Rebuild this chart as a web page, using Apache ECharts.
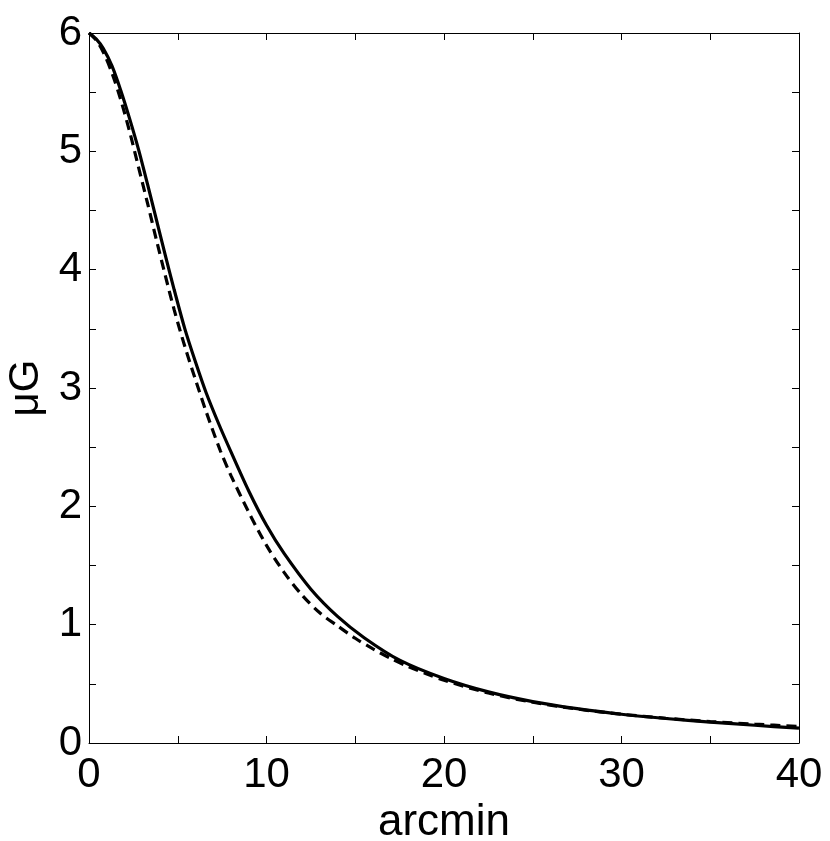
<!DOCTYPE html>
<html>
<head>
<meta charset="utf-8">
<script src="https://cdn.jsdelivr.net/npm/echarts@6/dist/echarts.min.js"></script>
<style>
html,body{margin:0;padding:0;background:#fff;}
#chart{width:830px;height:841px;}
</style>
</head>
<body>
<div id="chart"></div>
<script>
// Solid curve
var solidX = [0, 0.4, 0.8, 1.3, 1.8, 2.3, 2.8, 3.3, 3.8, 4.3, 4.8, 5.4, 6.0, 6.6, 7.3, 8.0, 9.0, 10.0, 11.0, 12.5, 14.0, 15.5, 17.5, 20.0, 22.5, 25.0, 27.5, 30.0, 32.5, 35.0, 37.5, 40.0];
var solidY = [6, 5.95, 5.87, 5.72, 5.51, 5.27, 5.01, 4.72, 4.42, 4.12, 3.83, 3.50, 3.22, 2.96, 2.70, 2.46, 2.13, 1.84, 1.60, 1.30, 1.07, 0.89, 0.70, 0.545, 0.432, 0.350, 0.290, 0.243, 0.207, 0.177, 0.150, 0.125];
// Dashed curve
var dashedX = [0, 0.4, 0.8, 1.3, 1.8, 2.3, 2.8, 3.3, 3.8, 4.3, 4.8, 5.4, 6.0, 6.6, 7.4, 8.0, 9.0, 10.0, 11.0, 12.0, 13.0, 14.0, 15.0, 16.0, 17.0, 18.0, 19.0, 20.0, 22.5, 25.0, 27.5, 30.0, 32.5, 35.0, 37.5, 40.0];
var dashedY = [6, 5.94, 5.84, 5.66, 5.43, 5.16, 4.86, 4.56, 4.25, 3.95, 3.66, 3.35, 3.07, 2.80, 2.47, 2.26, 1.95, 1.67, 1.44, 1.25, 1.10, 0.99, 0.885, 0.795, 0.715, 0.645, 0.585, 0.530, 0.422, 0.344, 0.287, 0.243, 0.209, 0.181, 0.159, 0.140];
// Axis settings / tick labels
var xMin = 0, xMax = 40, xStep = 5, xLabelStep = 10;
var yMin = 0, yMax = 6, yStep = 0.5, yLabelStep = 1;
var xTitle = 'arcmin';
var yTitle = 'μG';

function pairs(xs, ys) { return xs.map(function (x, i) { return [x, ys[i]]; }); }

var font = 'Liberation Sans';
var axisLine = { show: true, onZero: false, lineStyle: { color: '#000', width: 1 } };
var axisTick = { show: true, inside: true, length: 7, lineStyle: { color: '#000', width: 1 } };

var chart = echarts.init(document.getElementById('chart'), null, { renderer: 'canvas' });
chart.setOption({
  animation: false,
  backgroundColor: '#fff',
  grid: { left: 89, right: 31, top: 33, bottom: 98, containLabel: false, outerBoundsMode: 'none' },
  xAxis: [{
    type: 'value', min: xMin, max: xMax, interval: xStep, position: 'bottom',
    axisLine: axisLine, axisTick: axisTick, splitLine: { show: false },
    axisLabel: {
      formatter: function (v) { return v % xLabelStep === 0 ? String(v) : ''; },
      fontSize: 42, color: '#000', fontFamily: font, margin: 11, showMaxLabel: true, showMinLabel: true
    },
    name: xTitle, nameLocation: 'middle', nameGap: 53,
    nameTextStyle: { fontSize: 44, color: '#000', fontFamily: font }
  }, {
    type: 'value', min: xMin, max: xMax, interval: xStep, position: 'top',
    axisLine: axisLine, axisTick: axisTick, splitLine: { show: false }, axisLabel: { show: false }
  }],
  yAxis: [{
    type: 'value', min: yMin, max: yMax, interval: yStep, position: 'left',
    axisLine: axisLine, axisTick: axisTick, splitLine: { show: false },
    axisLabel: {
      formatter: function (v) { return Math.abs(v % yLabelStep) < 1e-9 ? String(v) : ''; },
      fontSize: 42, color: '#000', fontFamily: font, margin: 7, showMaxLabel: true, showMinLabel: true
    },
    name: yTitle, nameLocation: 'middle', nameGap: 33, nameRotate: 90,
    nameTextStyle: { fontSize: 42, color: '#000', fontFamily: font }
  }, {
    type: 'value', min: yMin, max: yMax, interval: yStep, position: 'right',
    axisLine: axisLine, axisTick: axisTick, splitLine: { show: false }, axisLabel: { show: false }
  }],
  series: [{
    type: 'line', xAxisIndex: 0, yAxisIndex: 0, data: pairs(dashedX, dashedY),
    smooth: 0.3, showSymbol: false, symbol: 'none',
    lineStyle: { color: '#000', width: 3.2, type: [10, 6] }
  }, {
    type: 'line', xAxisIndex: 0, yAxisIndex: 0, data: pairs(solidX, solidY),
    smooth: 0.3, showSymbol: false, symbol: 'none',
    lineStyle: { color: '#000', width: 3.2, type: 'solid' }
  }]
});
</script>
</body>
</html>
